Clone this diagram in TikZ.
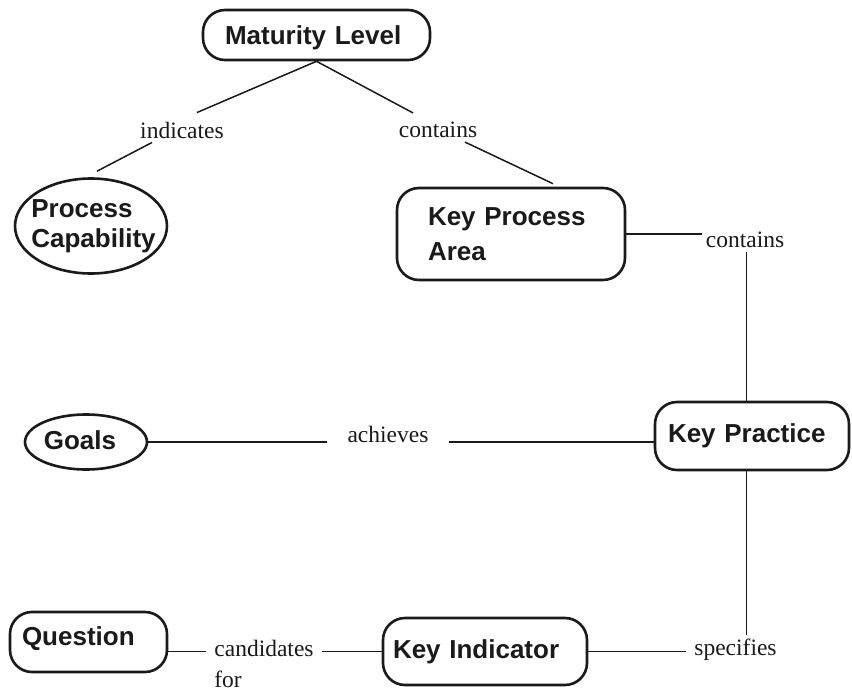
\documentclass[tikz,border=0pt]{standalone}
\usepackage{fontspec}
\setmainfont{Liberation Serif}
\setsansfont{Liberation Sans}
\usetikzlibrary{shapes.geometric}
\definecolor{ink}{HTML}{1A1A1A}
\newcommand\conceptfont{\sffamily\bfseries\fontsize{26}{35}\selectfont}
\newcommand\linkfont{\rmfamily\fontsize{23.5}{26}\selectfont}

\begin{document}
\begin{tikzpicture}[x=1pt,y=-1pt,
  concept/.style={draw=ink, line width=2.6pt, rounded corners=22pt, font=\conceptfont,
    text=ink, align=left, inner ysep=0pt},
  oval/.style={draw=ink, line width=2.6pt, ellipse, inner sep=0pt},
  ovaltext/.style={font=\conceptfont, text=ink, align=left, inner sep=0pt},
  linklabel/.style={font=\linkfont, text=ink, inner sep=4pt},
  link/.style={draw=ink, line width=1.5pt}]

% page
\fill[white] (0,0) rectangle (852,693);
\useasboundingbox (0,0) rectangle (852,693);

% concepts
\node[concept, minimum height=50pt, inner xsep=22pt, text width=183pt,
      text height=19pt, text depth=0pt] (ml) at (316.5,35) {Maturity Level};

\node[oval, minimum width=152pt, minimum height=95pt] (pc) at (91,226) {};
\node[ovaltext, font=\sffamily\bfseries\fontsize{26}{30}\selectfont] (pctext)
      at ([xshift=2.5pt]pc.center) {Process\\Capability};

\node[concept, minimum height=92pt, inner xsep=31pt, text width=166pt] (kpa)
      at (511,234) {Key Process\\Area};

\node[concept, minimum height=68pt, inner xsep=13pt, text width=168pt] (kp)
      at (752,436) {Key Practice};

\node[oval, minimum width=122pt, minimum height=55pt] (goals) at (86,442) {};
\node[ovaltext] (goalstext) at (80,440) {Goals};

\node[concept, minimum height=60pt, inner xsep=12pt, text width=133pt,
      text height=19pt, text depth=13pt] (q) at (88.5,642) {Question};

\node[concept, minimum height=67pt, inner xsep=10pt, text width=184pt] (ki)
      at (485,651.5) {Key Indicator};

% link phrases
\node[linklabel] (ind) at (182,130) {indicates};
\node[linklabel] (c1) at (438,130) {contains};
\node[linklabel] (c2) at (745,240) {contains};
\node[linklabel, inner xsep=20pt] (ach) at (388,434) {achieves};
\node[linklabel, inner xsep=8pt] (spec) at (735.5,650) {specifies};
\node[linklabel, inner xsep=8pt] (cand) at (264,648) {candidates};
\node[linklabel, inner xsep=8pt, anchor=north west] (candfor)
      at ([yshift=-6pt]cand.south west) {for};

% shared vertical on the right
\coordinate (vx) at (746.5,0);

% connectors
\draw[link] (ml.south) -- ([shift={(15pt,5pt)}]ind.north);
\draw[link] ([xshift=-30pt]ind.south) -- ([shift={(6pt,6pt)}]pc.north);
\draw[link] (ml.south) -- ([shift={(-25pt,5pt)}]c1.north);
\draw[link] ([xshift=27pt]c1.south) -- ([shift={(42pt,3pt)}]kpa.north);
\draw[link] (kpa.east) -- (kpa.east -| c2.west);
\draw[link] (c2.south -| vx) -- (kp.north -| vx);
\draw[link] (goals.east) -- (goals.east -| ach.west);
\draw[link] (ach.east |- goals.east) -- (kp.west |- goals.east);
\draw[link] (kp.south -| vx) -- (spec.north -| vx);
\draw[link] (ki.east) -- (ki.east -| spec.west);
\draw[link] (ki.west) -- (ki.west -| cand.east);
\draw[link] (cand.west |- ki.west) -- (q.east |- ki.west);
\end{tikzpicture}
\end{document}
